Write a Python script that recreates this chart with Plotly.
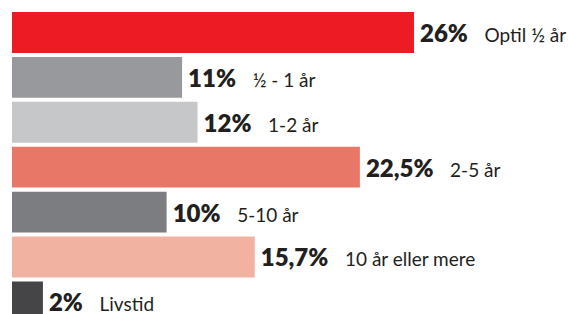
import plotly.graph_objects as go

categories = ["Optil ½ år", "½ - 1 år", "1-2 år", "2-5 år", "5-10 år", "10 år eller mere", "Livstid"]
values = [26, 11, 12, 22.5, 10, 15.7, 2]
colors = ["#ED1C24", "#98999C", "#C6C7C9", "#E97767", "#7C7D81", "#F2B2A2", "#454547"]

pct_labels = [f"{v:g}".replace(".", ",") + "%" for v in values]
texts = [f"\u2009{p}   <span style='font-size:19px;font-weight:400'>{c}</span>"
         for p, c in zip(pct_labels, categories)]

fig = go.Figure(go.Bar(
    x=values,
    y=list(range(len(categories))),
    orientation="h",
    marker=dict(color=colors, line=dict(width=0)),
    width=0.91,
    text=texts,
    textposition="outside",
    cliponaxis=False,
    textfont=dict(family="Lato", size=24, color="#231F20", weight=800),
    hoverinfo="skip",
))

fig.update_layout(
    width=568, height=314,
    margin=dict(l=12, r=0, t=0, b=0, autoexpand=False),
    paper_bgcolor="white", plot_bgcolor="white",
    showlegend=False,
    xaxis=dict(range=[0, 35.96], visible=False, fixedrange=True),
    yaxis=dict(range=[6.27, -0.724], visible=False, fixedrange=True),
)

fig.write_html("out.html", config={"displayModeBar": False},
               post_script="document.body.style.margin='0';")
